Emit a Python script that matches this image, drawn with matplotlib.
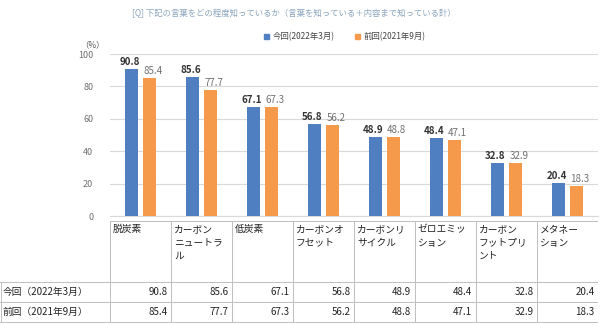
import matplotlib
matplotlib.use("Agg")
import matplotlib.pyplot as plt

plt.rcParams["font.family"] = ["Noto Sans CJK JP", "DejaVu Sans"]

title = "[Q] 下記の言葉をどの程度知っているか（言葉を知っている＋内容まで知っている計）"
categories = ["脱炭素", "カーボン\nニュートラ\nル", "低炭素", "カーボンオ\nフセット",
              "カーボンリ\nサイクル", "ゼロエミッ\nション", "カーボン\nフットプリ\nント",
              "メタネー\nション"]
series_names = ["今回（2022年3月）", "前回（2021年9月）"]
legend_names = ["今回(2022年3月)", "前回(2021年9月)"]
current = [90.8, 85.6, 67.1, 56.8, 48.9, 48.4, 32.8, 20.4]
previous = [85.4, 77.7, 67.3, 56.2, 48.8, 47.1, 32.9, 18.3]
yticks = [0, 20, 40, 60, 80, 100]

BLUE = "#4f7fc0"
ORANGE = "#f59a4a"
GRID = "#d9d9d9"
LINE = "#bfbfbf"

W, H = 600, 325
fig = plt.figure(figsize=(6, 3.25), dpi=100)


def px(x0, y0, x1, y1):
    # pixel box -> figure fraction rect
    return [x0 / W, 1 - y1 / H, (x1 - x0) / W, (y1 - y0) / H]


ax = fig.add_axes(px(110, 54, 598, 216))
n = len(categories)
xs = list(range(n))
bw = 0.22
off = 0.15
ax.bar([x - off for x in xs], current, width=bw, color=BLUE, zorder=3)
ax.bar([x + off for x in xs], previous, width=bw, color=ORANGE, zorder=3)
for x, v in zip(xs, current):
    ax.text(x - off - 0.03, v + 1.2, f"{v:.1f}", ha="center", va="bottom",
            fontsize=7, fontweight="bold", color="#333333")
for x, v in zip(xs, previous):
    ax.text(x + off + 0.05, v + 1.2, f"{v:.1f}", ha="center", va="bottom",
            fontsize=7, color="#707070")

ax.set_xlim(-0.5, n - 0.5)
ax.set_ylim(0, 100)
ax.set_yticks(yticks)
ax.set_yticklabels([str(t) for t in yticks], fontsize=6.5, color="#707070")
ax.set_xticks([])
ax.tick_params(axis="y", length=0, pad=12)
ax.grid(axis="y", color=GRID, linewidth=0.8, zorder=0)
for s in ["top", "right", "left"]:
    ax.spines[s].set_visible(False)
ax.spines["bottom"].set_color(GRID)
ax.text(-0.035, 1.03, "（%）", transform=ax.transAxes, fontsize=6,
        color="#555555", ha="center", va="bottom")

fig.text(0.49, 1 - 14 / H, title, ha="center", va="center", fontsize=6,
         color="#8aa4bd")

# legend
handles = [plt.Rectangle((0, 0), 1, 1, color=c) for c in (BLUE, ORANGE)]
fig.legend(handles, legend_names, loc="center", bbox_to_anchor=(0.575, 1 - 37 / H),
           ncol=2, frameon=False, fontsize=6, handlelength=0.6, handleheight=0.6,
           columnspacing=2.5, handletextpad=0.4, labelcolor="#444444")

# data table below the bars, pixel rows on y, category units on x
tab = fig.add_axes(px(0, 216, 598, 325))
unit = 488 / n
tab.set_xlim(-0.5 - 110 / unit, n - 0.5)
tab.set_ylim(325, 216)
tab.axis("off")
x_left = -0.5 - 110 / unit
head_top, row1, row2, bottom = 221, 282, 302, 322
for i in range(n + 1):
    tab.plot([i - 0.5, i - 0.5], [head_top, bottom], color=LINE, lw=0.7)
tab.plot([x_left + 0.01, x_left + 0.01], [row1, bottom], color=LINE, lw=0.7)
tab.plot([-0.5, n - 0.5], [head_top, head_top], color=LINE, lw=0.7)
for y in (row1, row2, bottom):
    tab.plot([x_left, n - 0.5], [y, y], color=LINE, lw=0.7)

for i, name in enumerate(categories):
    tab.text(i - 0.45, head_top + 3, name, ha="left", va="top", fontsize=7,
             color="#222222", linespacing=1.45)
for row_y, name, vals in ((row1, series_names[0], current), (row2, series_names[1], previous)):
    tab.text(x_left + 0.04, row_y + 10, name, ha="left", va="center",
             fontsize=7, color="#222222")
    for i, v in enumerate(vals):
        tab.text(i + 0.44, row_y + 10, f"{v:.1f}", ha="right", va="center",
                 fontsize=7, color="#222222")

fig.savefig("out.png", dpi=100)
